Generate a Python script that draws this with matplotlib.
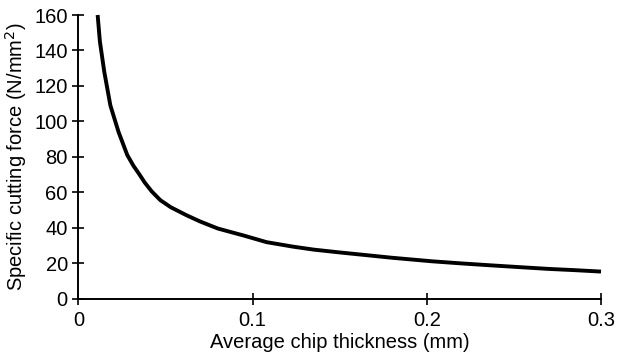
import matplotlib
matplotlib.use("Agg")
import matplotlib.pyplot as plt

plt.rcParams['font.family'] = ['Liberation Sans', 'DejaVu Sans']

chip_thickness = [0.0110, 0.0123, 0.0148, 0.0183, 0.023, 0.028, 0.0315, 0.035,
                  0.038, 0.042, 0.047, 0.053, 0.062, 0.070, 0.080, 0.095,
                  0.108, 0.123, 0.135, 0.15, 0.165, 0.18, 0.203, 0.22,
                  0.237, 0.255, 0.27, 0.285, 0.3]
cutting_force = [160, 145, 128, 109, 94, 81, 75, 70,
                 65.5, 60.5, 55.5, 51.5, 47, 43.4, 39.5, 35.5,
                 31.8, 29.3, 27.6, 26, 24.5, 23, 21, 19.8,
                 18.7, 17.6, 16.7, 16, 15.2]

x_ticks = [0, 0.1, 0.2, 0.3]
x_ticklabels = ['0', '0.1', '0.2', '0.3']
y_ticks = [0, 20, 40, 60, 80, 100, 120, 140, 160]

fig = plt.figure(figsize=(6.17, 3.61), dpi=100)
ax = fig.add_axes([0.1272, 0.1731, 0.8469, 0.7853])

ax.plot(chip_thickness, cutting_force, color='black', lw=2.8,
        solid_capstyle='butt', solid_joinstyle='round', clip_on=False)

ax.set_xlim(0, 0.3)
ax.set_ylim(0, 160)
ax.set_xticks(x_ticks)
ax.set_xticklabels(x_ticklabels)
ax.set_yticks(y_ticks)

for s in ['top', 'right']:
    ax.spines[s].set_visible(False)
for s in ['left', 'bottom']:
    ax.spines[s].set_linewidth(1.4)

ax.tick_params(axis='y', direction='inout', length=8.6, width=1.2,
               labelsize=14.5, pad=3.4)
ax.tick_params(axis='x', direction='inout', length=8.6, width=1.2,
               labelsize=14.5, pad=4.5)

ax.set_xlabel('Average chip thickness (mm)', fontsize=14.5, labelpad=2)
ax.set_ylabel('Specific cutting force (N/mm$^2$)', fontsize=14.5, labelpad=4)

fig.savefig('out.png', dpi=100)
